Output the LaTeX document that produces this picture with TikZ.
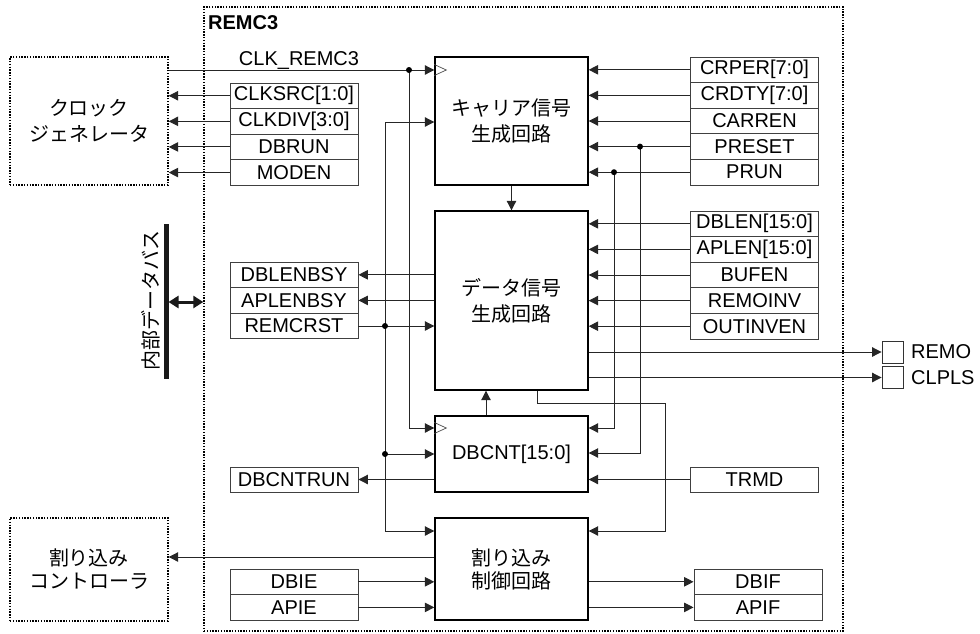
\documentclass[tikz,border=0pt]{standalone}
\usepackage{fontspec}
\setmainfont{Liberation Sans}
\newfontfamily\jpfont{Noto Sans CJK JP}
\usetikzlibrary{arrows.meta}
\begin{document}
\begin{tikzpicture}[x=1pt,y=-1pt,
 every node/.style={font=\fontsize{20}{24}\selectfont},
 reg/.style={draw=black!75, line width=0.9pt, minimum width=128pt, minimum height=25.6pt, inner sep=0pt},
 blk/.style={draw=black, line width=1.4pt, inner sep=0pt, align=center},
 jp/.style={font=\jpfont\fontsize{20}{26}\selectfont},
 jpi/.style={font=\jpfont\fontsize{20}{23}\selectfont},
 ext/.style={draw=black, line width=1.4pt, dash pattern=on 1.4pt off 1.4pt, inner sep=0pt, align=center},
 wire/.style={draw=black!85, line width=1pt},
 arr/.style={wire, -{Triangle[length=9.5pt,width=9.5pt]}},
 ck/.style={draw=black!70, line width=0.7pt},
]
\useasboundingbox (0,0) rectangle (980,633);

% outer container
\node[ext, minimum width=639pt, minimum height=624pt] (remc3) at (523.5,319) {};
\node[anchor=west, inner sep=0pt, font=\bfseries\fontsize{20}{24}\selectfont] (title) at (208,23) {REMC3};

% external blocks
\node[ext, jp, minimum width=158pt, minimum height=128pt] (clkgen) at (89,121) {クロック\\ジェネレータ};
\node[ext, jpi, minimum width=158pt, minimum height=103pt] (intctrl) at (89,569.5) {割り込み\\コントローラ};

% internal blocks
\node[blk, jp, minimum width=153pt, minimum height=128pt] (carrier) at (511.5,121) {キャリア信号\\生成回路};
\node[blk, jp, minimum width=153pt, minimum height=179pt] (data) at (511.5,300.5) {データ信号\\生成回路};
\node[blk, minimum width=153pt, minimum height=76pt] (dbcnt) at (511.5,454) {DBCNT[15:0]};
\node[blk, jpi, minimum width=153pt, minimum height=102pt] (intr) at (511.5,569) {割り込み\\制御回路};

% registers left
\node[reg] (clksrc) at (294,95.75) {CLKSRC[1:0]};
\node[reg] (clkdiv) at (294,121.35) {CLKDIV[3:0]};
\node[reg] (dbrun) at (294,146.95) {DBRUN};
\node[reg] (moden) at (294,172.55) {MODEN};
\node[reg] (dblenbsy) at (294,274.8) {DBLENBSY};
\node[reg] (aplenbsy) at (294,300.4) {APLENBSY};
\node[reg] (remcrst) at (294,326) {REMCRST};
\node[reg, minimum height=25pt] (dbcntrun) at (294,479.5) {DBCNTRUN};
\node[reg] (dbie) at (294,581.8) {DBIE};
\node[reg] (apie) at (294,607.4) {APIE};

% registers right
\node[reg] (crper) at (754.5,69.8) {CRPER[7:0]};
\node[reg] (crdty) at (754.5,95.4) {CRDTY[7:0]};
\node[reg] (carren) at (754.5,121) {CARREN};
\node[reg] (preset) at (754.5,146.6) {PRESET};
\node[reg] (prun) at (754.5,172.2) {PRUN};
\node[reg] (dblen) at (754.5,223.8) {DBLEN[15:0]};
\node[reg] (aplen) at (754.5,249.4) {APLEN[15:0]};
\node[reg] (bufen) at (754.5,275) {BUFEN};
\node[reg] (remoinv) at (754.5,300.6) {REMOINV};
\node[reg] (outinven) at (754.5,326.2) {OUTINVEN};
\node[reg, minimum height=25pt] (trmd) at (754.5,479.5) {TRMD};
\node[reg] (dbif) at (758,581.8) {DBIF};
\node[reg] (apif) at (758,607.4) {APIF};

% output pins
\node[draw=black!80, line width=0.9pt, minimum width=21pt, minimum height=22pt, inner sep=0pt] (remo) at (892.5,352) {};
\node[draw=black!80, line width=0.9pt, minimum width=21pt, minimum height=22pt, inner sep=0pt] (clpls) at (892.5,377.5) {};
\node[anchor=west, inner sep=0pt] (remolbl) at (911,352) {REMO};
\node[anchor=west, inner sep=0pt] (clplslbl) at (911,377.5) {CLPLS};

% register connections
\foreach \n in {clksrc,clkdiv,dbrun,moden} \draw[arr] (\n.west) -- (\n.west -| clkgen.east);
\foreach \n in {crper,crdty,carren,preset,prun} \draw[arr] (\n.west) -- (\n.west -| carrier.east);
\foreach \n in {dblen,aplen,bufen,remoinv,outinven} \draw[arr] (\n.west) -- (\n.west -| data.east);
\foreach \n in {dblenbsy,aplenbsy} \draw[arr] (\n.east -| data.west) -- (\n.east);
\draw[arr] (remcrst.east) -- (remcrst.east -| data.west);
\draw[arr] (dbcntrun.east -| dbcnt.west) -- (dbcntrun.east);
\draw[arr] (trmd.west) -- (trmd.west -| dbcnt.east);
\foreach \n in {dbie,apie} \draw[arr] (\n.east) -- (\n.east -| intr.west);
\foreach \n in {dbif,apif} \draw[arr] (\n.west -| intr.east) -- (\n.west);

% clock
\coordinate (clkdot) at (409,70);
\node[anchor=base, inner sep=0pt] (clklbl) at (299,65) {CLK\_REMC3};
\draw[arr] (clkgen.east |- clkdot) -- (carrier.west |- clkdot);
\draw[arr] (clkdot) |- (dbcnt.west |- 0,428);
\draw[ck] (carrier.west |- 0,64.5) -- ++(12,5.5) -- ++(-12,5.5);
\draw[ck] (dbcnt.west |- 0,422.5) -- ++(12,5.5) -- ++(-12,5.5);

% reset distribution
\coordinate (rstdot) at (385,326);
\coordinate (rstdot2) at (385,454);
\draw[arr] (rstdot) |- (carrier.west |- 0,122);
\draw[arr] (rstdot) |- (intr.west |- 0,531);
\draw[arr] (rstdot2) -- (dbcnt.west |- rstdot2);

% PRUN / PRESET to counter
\coordinate (prundot) at (614,172.2);
\coordinate (presetdot) at (640,146.6);
\draw[arr] (prundot) |- (dbcnt.east |- 0,428);
\draw[arr] (presetdot) |- (dbcnt.east |- 0,453);

% inter-block
\draw[arr] (carrier.south) -- (data.north);
\draw[arr] (dbcnt.north -| 486,0) -- (data.south -| 486,0);
\draw[arr] (data.south -| 537,0) -- (537,403) -- (665,403) |- (intr.east |- 0,531);
\draw[arr] (data.east |- remo) -- (remo.west);
\draw[arr] (data.east |- clpls) -- (clpls.west);
\draw[arr] (intr.west |- 0,557) -- (intctrl.east |- 0,557);

% dots
\foreach \p in {clkdot,rstdot,rstdot2,prundot,presetdot} \fill[black] (\p) circle (3pt);

% internal data bus
\coordinate (bustop) at (166,224);
\coordinate (busbot) at (166,379);
\draw[line width=5pt, black!90] (bustop) -- (busbot);
\draw[line width=3pt, black!90, {Triangle[length=10pt,width=12pt]}-{Triangle[length=10pt,width=12pt]}] (168.5,302) -- (remc3.west |- 0,302);
\node[rotate=90, font=\jpfont\fontsize{20}{24}\selectfont, inner sep=0pt] (buslbl) at (151,300) {内部データバス};
\end{tikzpicture}
\end{document}
